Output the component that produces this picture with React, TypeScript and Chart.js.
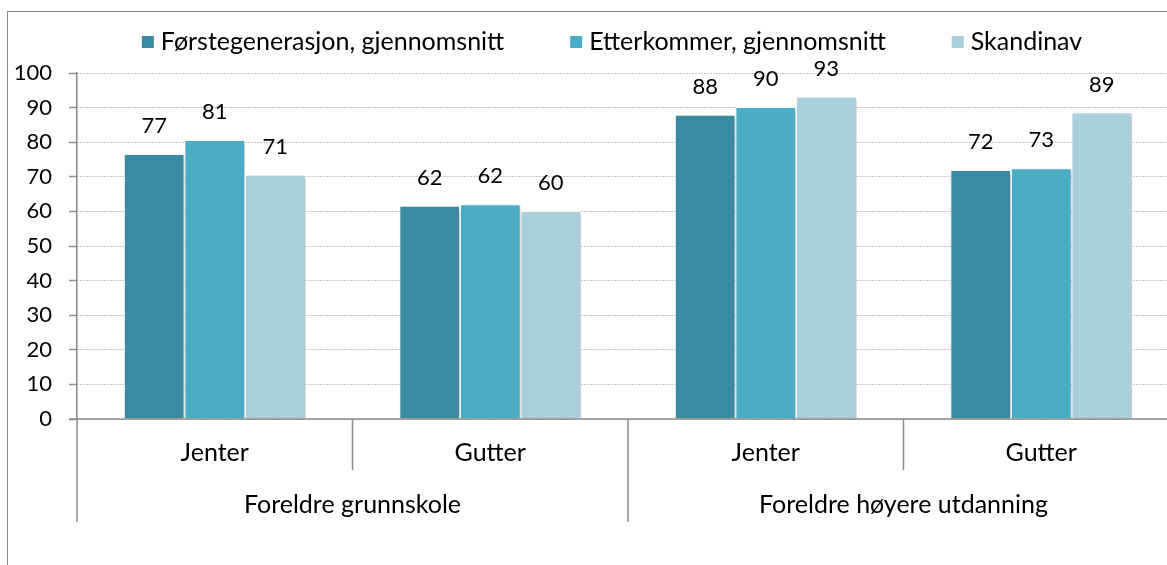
import React, { useEffect, useRef } from "react";
import { Chart, registerables } from "chart.js";

Chart.register(...registerables);

const categories = ["Jenter", "Gutter", "Jenter", "Gutter"];
const groups = ["Foreldre grunnskole", "Foreldre høyere utdanning"];
const seriesNames = [
  "Førstegenerasjon, gjennomsnitt",
  "Etterkommer, gjennomsnitt",
  "Skandinav",
];
const firstGen = [76.6, 61.6, 87.9, 72.0];
const descendant = [80.6, 62.1, 90.2, 72.5];
const scandinavian = [70.6, 60.1, 93.2, 88.6];
const yTicks = [0, 10, 20, 30, 40, 50, 60, 70, 80, 90, 100];

const colors = ["#3C8AA1", "#4BACC6", "#A9CEDC"];
const FONT = "Lato, 'Open Sans', sans-serif";
const FS_NUM = 22;
const FS_TEXT = 25;

export default function App() {
  const ref = useRef<HTMLCanvasElement | null>(null);

  useEffect(() => {
    if (!ref.current) return;

    const shadowPlugin = {
      id: "barShadow",
      beforeDatasetsDraw(chart: any) {
        const ctx = chart.ctx;
        ctx.save();
        ctx.shadowColor = "rgba(0,0,0,0.25)";
        ctx.shadowBlur = 4;
        ctx.shadowOffsetX = 2;
        ctx.shadowOffsetY = 2;
      },
      afterDatasetsDraw(chart: any) {
        chart.ctx.restore();
      },
    };

    const decorPlugin = {
      id: "decor",
      afterDraw(chart: any) {
        const ctx = chart.ctx;
        const x = chart.scales.x;
        const area = chart.chartArea;
        const bottom = area.bottom;
        const left = area.left;
        const right = area.right;
        const n = categories.length;
        const catW = (right - left) / n;

        ctx.save();
        ctx.strokeStyle = "#8c8c8c";
        ctx.lineWidth = 1.5;
        ctx.beginPath();
        ctx.moveTo(left - 8, bottom);
        ctx.lineTo(right, bottom);
        ctx.stroke();

        for (let i = 0; i <= n; i++) {
          const px = left + i * catW;
          const isOuter = i % 2 === 0;
          ctx.beginPath();
          ctx.moveTo(px, bottom);
          ctx.lineTo(px, bottom + (isOuter ? 103 : 51));
          ctx.stroke();
        }

        ctx.fillStyle = "#000";
        ctx.textAlign = "center";
        ctx.textBaseline = "middle";
        ctx.font = `${FS_TEXT}px ${FONT}`;
        categories.forEach((c, i) => {
          ctx.fillText(c, x.getPixelForValue(i), bottom + 34);
        });
        groups.forEach((g, gi) => {
          const cx = left + catW * (gi * 2 + 1);
          ctx.fillText(g, cx, bottom + 86);
        });

        ctx.font = `${FS_NUM}px ${FONT}`;
        chart.data.datasets.forEach((ds: any, di: number) => {
          const meta = chart.getDatasetMeta(di);
          meta.data.forEach((el: any, i: number) => {
            const v = ds.data[i];
            ctx.fillText(String(Math.round(v)), el.x, el.y - 28);
          });
        });

        ctx.font = `${FS_TEXT}px ${FONT}`;
        ctx.textAlign = "left";
        const box = 12;
        const gapBoxText = 7;
        const gapItems = 66;
        const widths = seriesNames.map((s) => ctx.measureText(s).width);
        const total =
          widths.reduce((a, w) => a + box + gapBoxText + w, 0) +
          gapItems * (seriesNames.length - 1);
        let lx = 612 - total / 2;
        const ly = 42;
        seriesNames.forEach((s, i) => {
          ctx.fillStyle = colors[i];
          ctx.fillRect(lx, ly - box / 2, box, box);
          ctx.fillStyle = "#000";
          ctx.fillText(s, lx + box + gapBoxText, ly);
          lx += box + gapBoxText + widths[i] + gapItems;
        });
        ctx.restore();
      },
    };

    const chart = new Chart(ref.current, {
      type: "bar",
      data: {
        labels: categories,
        datasets: [firstGen, descendant, scandinavian].map((d, i) => ({
          label: seriesNames[i],
          data: d,
          backgroundColor: colors[i],
          borderColor: "#ffffff",
          borderWidth: 1,
          categoryPercentage: 0.66,
          barPercentage: 1.0,
        })),
      },
      options: {
        responsive: false,
        animation: false,
        devicePixelRatio: 1,
        layout: { padding: { top: 73, bottom: 146, right: 21, left: 0 } },
        plugins: {
          legend: { display: false },
          tooltip: { enabled: false },
          title: { display: false },
        },
        scales: {
          x: { display: false },
          y: {
            min: 0,
            max: 100,
            afterFit(s: any) {
              s.width = 77;
            },
            afterBuildTicks(s: any) {
              s.ticks = yTicks.map((v) => ({ value: v }));
            },
            ticks: {
              padding: 17,
              color: "#000",
              font: { family: FONT, size: FS_NUM },
            },
            grid: {
              color: "#8c8c8c",
              lineWidth: 1,
              tickLength: 8,
              tickColor: "#8c8c8c",
              tickWidth: 1.5,
              tickBorderDash: [],
            },
            border: {
              display: true,
              color: "#8c8c8c",
              width: 1.5,
              dash: [1, 2],
            },
          },
        },
      },
      plugins: [shadowPlugin, decorPlugin],
    });

    return () => chart.destroy();
  }, []);

  return (
    <div
      style={{
        position: "fixed",
        left: 0,
        top: 0,
        width: 1167,
        height: 565,
        overflow: "hidden",
        background: "#fff",
      }}
    >
      <div
        style={{
          position: "absolute",
          left: 7,
          top: 11,
          width: 1300,
          height: 700,
          border: "1.5px solid #8c8c8c",
        }}
      />
      <canvas
        ref={ref}
        width={1200}
        height={565}
        style={{ position: "absolute", left: 0, top: 0, width: 1200, height: 565 }}
      />
    </div>
  );
}
